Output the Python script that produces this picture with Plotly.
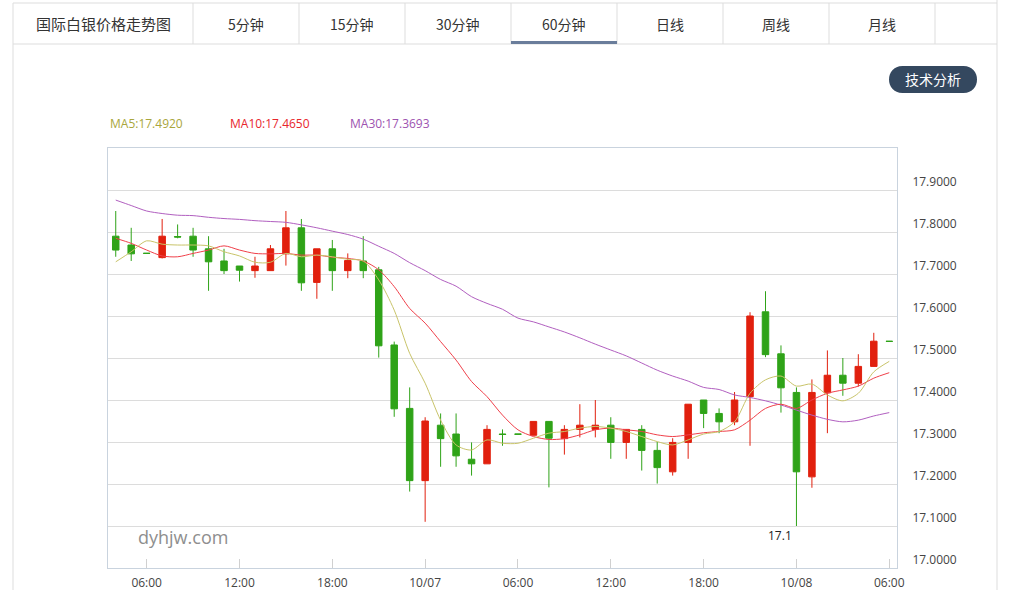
import plotly.graph_objects as go

# ---------------- data ----------------
idx = list(range(51))
tick_pos = [2, 8, 14, 20, 26, 32, 38, 44, 50]
tick_text = ["06:00", "12:00", "18:00", "10/07", "06:00", "12:00", "18:00", "10/08", "06:00"]

open_ = [17.790, 17.769, 17.7495, 17.739, 17.789, 17.790, 17.760, 17.731, 17.719, 17.708,
         17.708, 17.748, 17.810, 17.680, 17.760, 17.708, 17.731, 17.710, 17.531, 17.380,
         17.208, 17.340, 17.319, 17.259, 17.248, 17.319, 17.319, 17.316, 17.349, 17.308,
         17.330, 17.330, 17.340, 17.299, 17.330, 17.280, 17.229, 17.299, 17.400, 17.368,
         17.348, 17.408, 17.610, 17.510, 17.418, 17.217, 17.417, 17.459, 17.440, 17.480,
         17.540]
high = [17.850, 17.810, 17.7495, 17.831, 17.818, 17.810, 17.790, 17.760, 17.719, 17.741,
        17.769, 17.850, 17.831, 17.760, 17.781, 17.749, 17.790, 17.717, 17.539, 17.430,
        17.359, 17.368, 17.368, 17.299, 17.340, 17.330, 17.319, 17.349, 17.349, 17.340,
        17.390, 17.400, 17.359, 17.330, 17.340, 17.300, 17.309, 17.390, 17.400, 17.380,
        17.419, 17.609, 17.659, 17.530, 17.430, 17.449, 17.518, 17.500, 17.509, 17.560,
        17.540]
low = [17.741, 17.731, 17.749, 17.737, 17.785, 17.741, 17.660, 17.700, 17.682, 17.691,
       17.708, 17.720, 17.660, 17.641, 17.660, 17.690, 17.690, 17.501, 17.360, 17.182,
       17.110, 17.241, 17.241, 17.220, 17.248, 17.291, 17.3185, 17.316, 17.192, 17.270,
       17.311, 17.311, 17.260, 17.260, 17.232, 17.201, 17.220, 17.260, 17.333, 17.321,
       17.340, 17.291, 17.502, 17.370, 17.100, 17.191, 17.321, 17.410, 17.432, 17.480,
       17.5395]
close = [17.757, 17.748, 17.749, 17.790, 17.788, 17.757, 17.729, 17.708, 17.709, 17.719,
         17.760, 17.810, 17.679, 17.760, 17.708, 17.732, 17.708, 17.529, 17.379, 17.208,
         17.350, 17.308, 17.267, 17.248, 17.330, 17.318, 17.3185, 17.349, 17.309, 17.330,
         17.340, 17.340, 17.299, 17.330, 17.280, 17.239, 17.299, 17.390, 17.368, 17.348,
         17.400, 17.600, 17.508, 17.429, 17.229, 17.418, 17.459, 17.440, 17.480, 17.540,
         17.5395]

ma5 = [17.729, 17.753, 17.779, 17.771, 17.769, 17.769, 17.767, 17.753, 17.743, 17.728,
       17.728, 17.749, 17.741, 17.745, 17.741, 17.735, 17.731, 17.686, 17.614, 17.511,
       17.440, 17.352, 17.293, 17.281, 17.305, 17.297, 17.297, 17.309, 17.321, 17.325,
       17.333, 17.337, 17.333, 17.325, 17.313, 17.301, 17.293, 17.305, 17.319, 17.325,
       17.348, 17.416, 17.448, 17.457, 17.433, 17.438, 17.412, 17.398, 17.416, 17.467,
       17.492]
ma10 = [17.785, 17.773, 17.757, 17.743, 17.741, 17.749, 17.757, 17.767, 17.757, 17.749,
        17.748, 17.749, 17.745, 17.745, 17.740, 17.737, 17.731, 17.710, 17.670, 17.618,
        17.583, 17.539, 17.495, 17.444, 17.408, 17.364, 17.329, 17.313, 17.306, 17.308,
        17.317, 17.329, 17.333, 17.329, 17.325, 17.317, 17.313, 17.317, 17.322, 17.325,
        17.329, 17.352, 17.380, 17.390, 17.380, 17.400, 17.416, 17.424, 17.433, 17.452,
        17.465]
ma30 = [17.876, 17.863, 17.850, 17.844, 17.840, 17.839, 17.835, 17.832, 17.830, 17.827,
        17.825, 17.823, 17.817, 17.810, 17.802, 17.794, 17.783, 17.766, 17.749, 17.727,
        17.708, 17.687, 17.671, 17.646, 17.630, 17.616, 17.595, 17.586, 17.574, 17.562,
        17.548, 17.533, 17.519, 17.505, 17.488, 17.471, 17.457, 17.445, 17.430, 17.425,
        17.412, 17.406, 17.398, 17.388, 17.376, 17.364, 17.354, 17.348, 17.352, 17.362,
        17.370]

y_ticks = [17.0, 17.1, 17.2, 17.3, 17.4, 17.5, 17.6, 17.7, 17.8, 17.9]
legend_text = ["MA5:17.4920", "MA10:17.4650", "MA30:17.3693"]
tabs = ["国际白银价格走势图", "5分钟", "15分钟", "30分钟", "60分钟", "日线", "周线", "月线"]

# ---------------- styles ----------------
W, H = 1014, 590
PL, PR, PT, PB = 108, 897, 148, 568
RED = "#e1200e"
GREEN = "#2fa318"
C_MA5 = "#c9c46a"
C_MA10 = "#f0404a"
C_MA30 = "#b15fc0"
LATIN = "'Open Sans', 'Noto Sans CJK SC', sans-serif"
CJK = "'Noto Sans CJK SC', sans-serif"


def px(x):
    return (x - PL) / (PR - PL)


def py(y):
    return (PB - y) / (PB - PT)


fig = go.Figure()
fig.add_trace(go.Candlestick(
    x=idx, open=open_, high=high, low=low, close=close,
    increasing=dict(line=dict(color=RED, width=1), fillcolor=RED),
    decreasing=dict(line=dict(color=GREEN, width=1), fillcolor=GREEN),
    showlegend=False, hoverinfo="skip",
))
for vals, col in [(ma30, C_MA30), (ma10, C_MA10), (ma5, C_MA5)]:
    fig.add_trace(go.Scatter(x=idx, y=vals, mode="lines",
                             line=dict(color=col, width=1, shape="spline", smoothing=0.8),
                             showlegend=False, hoverinfo="skip"))

shapes = []
annots = []

# tab bar
line_c = "#dddddd"
shapes.append(dict(type="line", xref="paper", yref="paper", x0=px(13), x1=px(997), y0=py(3), y1=py(3),
                   line=dict(color=line_c, width=1)))
shapes.append(dict(type="line", xref="paper", yref="paper", x0=px(13), x1=px(997), y0=py(44), y1=py(44),
                   line=dict(color=line_c, width=1)))
edges = [13, 193, 299, 405, 511, 617, 723, 829, 935]
for e in edges:
    shapes.append(dict(type="line", xref="paper", yref="paper", x0=px(e), x1=px(e), y0=py(3), y1=py(44),
                       line=dict(color=line_c, width=1)))
shapes.append(dict(type="rect", xref="paper", yref="paper", x0=px(511), x1=px(617), y0=py(44), y1=py(41),
                   fillcolor="#6a7d9b", line=dict(width=0)))
for i, t in enumerate(tabs):
    cx = (edges[i] + edges[i + 1]) / 2
    annots.append(dict(xref="paper", yref="paper", x=px(cx), y=py(24), text=t, showarrow=False,
                       xanchor="center", yanchor="middle",
                       font=dict(family=CJK, size=15 if i == 0 else 14, color="#333333")))

# panel borders
shapes.append(dict(type="line", xref="paper", yref="paper", x0=px(13), x1=px(13), y0=py(44), y1=py(590),
                   line=dict(color=line_c, width=1)))
shapes.append(dict(type="line", xref="paper", yref="paper", x0=px(997), x1=px(997), y0=py(0), y1=py(590),
                   line=dict(color=line_c, width=1)))

# button pill
bx0, bx1, by0, by1 = 889, 977, 66, 93
r = (by1 - by0) / 2
k = r * 4 / 3
pts = f"M {px(bx0 + r)},{py(by0)} L {px(bx1 - r)},{py(by0)} " \
      f"C {px(bx1 - r + k)},{py(by0)} {px(bx1 - r + k)},{py(by1)} {px(bx1 - r)},{py(by1)} " \
      f"L {px(bx0 + r)},{py(by1)} " \
      f"C {px(bx0 + r - k)},{py(by1)} {px(bx0 + r - k)},{py(by0)} {px(bx0 + r)},{py(by0)} Z"
shapes.append(dict(type="path", xref="paper", yref="paper", path=pts, fillcolor="#34485f",
                   line=dict(width=0)))
annots.append(dict(xref="paper", yref="paper", x=px((bx0 + bx1) / 2), y=py(79.5), text="技术分析",
                   showarrow=False, xanchor="center", yanchor="middle",
                   font=dict(family=CJK, size=14, color="#ffffff")))

# MA legend text
for t, x0, col in zip(legend_text, [108, 228, 348], ["#a9a63c", "#e8262c", "#9d53b0"]):
    annots.append(dict(xref="paper", yref="paper", x=px(x0), y=py(123), text=t, showarrow=False,
                       xanchor="left", yanchor="middle", font=dict(family=LATIN, size=12, color=col)))

# watermark
annots.append(dict(xref="paper", yref="paper", x=px(136), y=py(537), text="dyhjw.com", showarrow=False,
                   xanchor="left", yanchor="middle", font=dict(family=LATIN, size=18, color="#8e8e8e")))

# min label
lo_i = low.index(min(low))
annots.append(dict(x=lo_i, y=min(low), xref="x", yref="y", text=f"{min(low):g}", showarrow=False,
                   xanchor="right", yanchor="top", xshift=-2, yshift=1,
                   font=dict(family=LATIN, size=12, color="#222222")))

fig.update_layout(
    width=W, height=H, autosize=False,
    margin=dict(l=PL, r=W - PR, t=PT, b=H - PB, pad=0, autoexpand=False),
    paper_bgcolor="white", plot_bgcolor="white",
    showlegend=False, boxgap=0.4,
    shapes=shapes, annotations=annots,
    xaxis=dict(range=[-0.5, 50.5], tickvals=tick_pos, ticktext=tick_text, showgrid=False,
               zeroline=False, ticks="inside", ticklen=9, tickcolor="#d0d0d0",
               showline=True, mirror=True, linecolor="#c9d3de", linewidth=1,
               tickfont=dict(family=LATIN, size=12, color="#444444"), automargin=False,
               ticklabelstandoff=4,
               rangeslider=dict(visible=False), fixedrange=True),
    yaxis=dict(range=[17.0, 18.0], tickvals=y_ticks, tickformat=".4f", side="right",
               showgrid=True, gridcolor="#dcdcdc", gridwidth=1, zeroline=False,
               showline=True, mirror=True, linecolor="#c9d3de", linewidth=1, automargin=False,
               ticks="", ticklabelposition="outside top", ticklabelstandoff=12,
               tickfont=dict(family=LATIN, size=12, color="#444444"), fixedrange=True),
)

fig.write_html("out.html")
